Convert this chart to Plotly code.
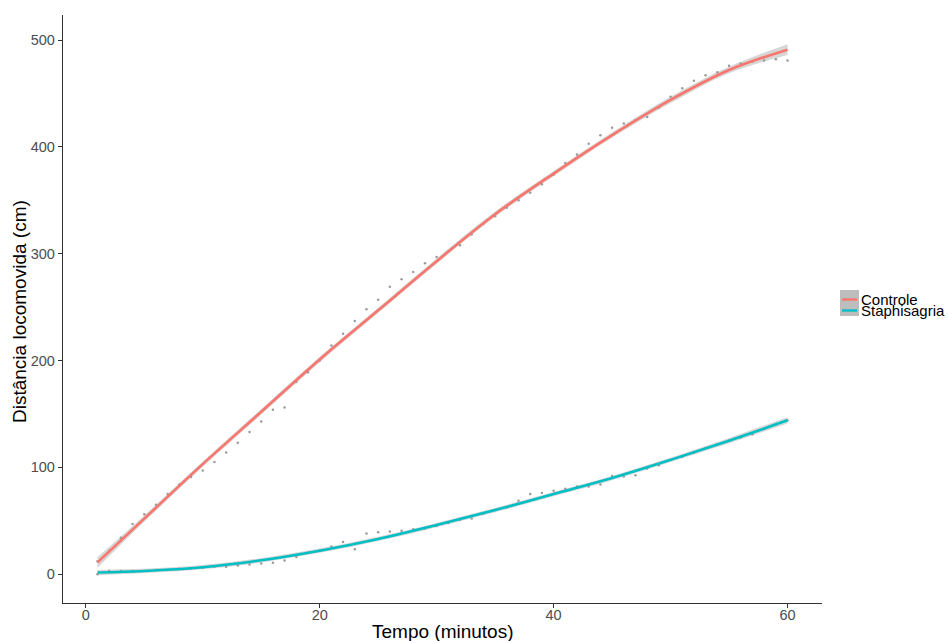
import plotly.graph_objects as go

# ---- data ----
minutes = list(range(1, 61))

controle_pts = [12, 22, 34, 47, 56, 65, 75, 84, 91, 97,
                105, 114, 123, 133, 143, 154, 156, 180, 189, 200,
                214, 225, 237, 248, 257, 269, 276, 283, 291, 297,
                302, 308, 318, 328, 335, 343, 350, 357, 365, 374,
                385, 393, 403, 411, 418, 422, 425, 428, 437, 447,
                455, 462, 467, 470, 476, 478, 480, 481, 482, 481]

staphisagria_pts = [0, 3, 3, 3, 3, 4, 4, 5, 5.5, 6,
                    7, 7, 8, 9, 10, 10.6, 12.8, 16, 20, 22,
                    26, 30, 23.4, 38, 39.3, 40, 40.6, 42, 42.8, 45,
                    48, 51, 52, 56.8, 60, 62.5, 68.7, 75, 76, 78,
                    80, 82, 82, 84, 92, 91.5, 92.5, 99, 102, 107,
                    110, 114, 118, 121.7, 125, 128, 131, 136, 140, 144]

smooth_t = [1, 5, 10, 15, 20, 25, 30, 35, 40, 45, 50, 55, 60]
controle_fit = [11, 52, 103, 152, 201, 247, 293, 337, 375, 411, 444, 472, 491]
controle_lo = [6, 49, 100.5, 149.5, 198.5, 244.5, 290.5, 334.5, 372.5, 408.5, 441, 469, 486]
controle_hi = [16, 55, 105.5, 154.5, 203.5, 249.5, 295.5, 339.5, 377.5, 413.5, 447, 475, 496]

staph_fit = [1.5, 3, 6.5, 13, 22, 33, 46, 60, 75, 90, 107, 125, 144]
staph_lo = [-1, 1, 4.5, 11, 20, 31, 44, 58, 73, 88, 105, 122.5, 141]
staph_hi = [4, 5, 8.5, 15, 24, 35, 48, 62, 77, 92, 109, 127.5, 147]

groups = ["Controle", "Staphisagria"]
colors = ["#F8766D", "#00BFC4"]

x_ticks = [0, 20, 40, 60]
y_ticks = [0, 100, 200, 300, 400, 500]

# ---- figure ----
fig = go.Figure()

for pts in (controle_pts, staphisagria_pts):
    fig.add_trace(go.Scatter(x=minutes, y=pts, mode="markers",
                             marker=dict(size=2.5, color="#9a9a9a"),
                             showlegend=False, hoverinfo="skip"))

for lo, hi in ((controle_lo, controle_hi), (staph_lo, staph_hi)):
    fig.add_trace(go.Scatter(x=smooth_t, y=lo, mode="lines",
                             line=dict(width=0, shape="spline"),
                             showlegend=False, hoverinfo="skip"))
    fig.add_trace(go.Scatter(x=smooth_t, y=hi, mode="lines", fill="tonexty",
                             fillcolor="rgba(153,153,153,0.4)",
                             line=dict(width=0, shape="spline"),
                             showlegend=False, hoverinfo="skip"))

for fit, name, col in ((controle_fit, groups[0], colors[0]),
                       (staph_fit, groups[1], colors[1])):
    fig.add_trace(go.Scatter(x=smooth_t, y=fit, mode="lines", name=name,
                             line=dict(color=col, width=2.6, shape="spline"),
                             showlegend=False))

# ---- manual legend (ggplot style) ----
L, R, T, B = 63, 126, 15, 38
W, H = 948 - L - R, 641 - T - B
px = lambda x: (x - L) / W
py = lambda y: (641 - B - y) / H

fig.add_shape(type="rect", xref="paper", yref="paper",
              x0=px(840), x1=px(859), y0=py(316), y1=py(290),
              fillcolor="#bdbdbd", line=dict(width=0))
for i, (name, col) in enumerate(zip(groups, colors)):
    yy = [299.5, 310.5][i]
    fig.add_shape(type="line", xref="paper", yref="paper",
                  x0=px(842), x1=px(857), y0=py(yy), y1=py(yy),
                  line=dict(color=col, width=2.4))
    fig.add_annotation(text=name, xref="paper", yref="paper",
                       x=px(859), y=py(yy), xanchor="left", yanchor="middle",
                       showarrow=False, font=dict(size=15, color="black"))

# axis titles
fig.add_annotation(text="Distância locomovida (cm)", xref="paper", yref="paper",
                   x=px(20), y=py(312), textangle=-90, showarrow=False,
                   xanchor="center", yanchor="middle",
                   font=dict(size=19, color="black"))
fig.add_annotation(text="Tempo (minutos)", xref="paper", yref="paper",
                   x=0.5, y=py(632), showarrow=False,
                   xanchor="center", yanchor="middle",
                   font=dict(size=19, color="black"))

axis_common = dict(showgrid=False, zeroline=False, showline=True,
                   linecolor="#333333", linewidth=1.3, ticks="outside",
                   ticklen=4, tickwidth=1.2, tickcolor="#333333",
                   automargin=False,
                   tickfont=dict(size=14.5, color="#4d4d4d"))

fig.update_xaxes(range=[-1.95, 62.95], tickvals=x_ticks,
                 ticklabelstandoff=-6, **axis_common)
fig.update_yaxes(range=[-27, 523.5], tickvals=y_ticks, **axis_common)

fig.update_layout(width=948, height=641,
                  margin=dict(l=L, r=R, t=T, b=B, autoexpand=False),
                  plot_bgcolor="white", paper_bgcolor="white",
                  font=dict(family="Liberation Sans, Arial, sans-serif"),
                  showlegend=False)

fig.write_html("out.html", config={"displayModeBar": False},
               post_script="document.body.style.margin='0';document.body.style.overflow='hidden';")
